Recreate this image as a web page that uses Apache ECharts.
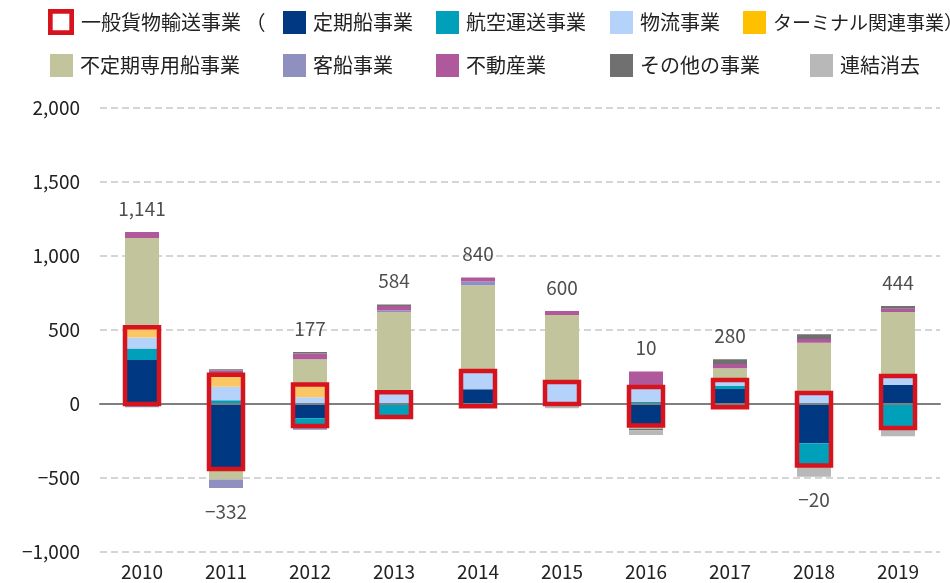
<!DOCTYPE html>
<html>
<head>
<meta charset="utf-8">
<script src="https://cdn.jsdelivr.net/npm/echarts@6/dist/echarts.min.js"></script>
<style>
  html, body { margin: 0; padding: 0; background: #fff; }
  #chart { width: 950px; height: 583px; }
</style>
</head>
<body>
<div id="chart"></div>
<script>
// 年度
const years = ['2010', '2011', '2012', '2013', '2014', '2015', '2016', '2017', '2018', '2019']

// 一般貨物輸送事業
const liner = [297, -440, -97, 0, 99, 0, -145, 101, -266, 128]      // 定期船事業
const air = [78, 25, -52, -88, -15, 8, 15, 20, -149, -162]           // 航空運送事業
const logistics = [74, 92, 45, 80, 124, 141, 100, 41, 74, 61]        // 物流事業
const terminal = [70, 80, 86, 0, 0, 0, 0, -22, 0, 0]                 // ターミナル関連事業

// その他セグメント
const tramp = [603, -70, 172, 541, 580, 452, -22, 79, 340, 433]      // 不定期専用船事業
const cruise = [-22, -57, -25, 10, 25, 0, 0, 0, 0, 0]                // 客船事業
const realEstate = [41, 30, 38, 32, 27, 27, 105, 29, 25, 22]         // 不動産業
const others = [0, 8, 10, 9, 0, 0, -10, 32, 32, 18]                  // その他の事業
const elimination = [0, 0, 0, 0, 0, -28, -33, 0, -76, -56]           // 連結消去

// 合計ラベル
const totals = [1141, -332, 177, 584, 840, 600, 10, 280, -20, 444]

const FONT = '"Noto Sans CJK JP", "Noto Sans", sans-serif'
const BAR_W = 34
const RED = '#d7141e'

const barDefs = [
  { name: '定期船事業', data: liner, color: '#003882' },
  { name: '航空運送事業', data: air, color: '#00a0ba' },
  { name: '物流事業', data: logistics, color: '#b4d2fa' },
  { name: 'ターミナル関連事業', data: terminal, color: '#fac764', legendColor: '#ffc000' },
  { name: '不定期専用船事業', data: tramp, color: '#c2c49c' },
  { name: '客船事業', data: cruise, color: '#9090c0' },
  { name: '不動産業', data: realEstate, color: '#b0589c' },
  { name: 'その他の事業', data: others, color: '#707070' },
  { name: '連結消去', data: elimination, color: '#b8b8b8' }
]
const generalArrs = [liner, air, logistics, terminal]

const sumBy = (arrs, i, f) => arrs.reduce((s, a) => s + f(a[i]), 0)
const genPos = years.map((y, i) => sumBy(generalArrs, i, v => Math.max(v, 0)))
const genNeg = years.map((y, i) => sumBy(generalArrs, i, v => Math.min(v, 0)))
const allArrs = barDefs.map(d => d.data)
const posTop = years.map((y, i) => sumBy(allArrs, i, v => Math.max(v, 0)))
const negBottom = years.map((y, i) => sumBy(allArrs, i, v => Math.min(v, 0)))

const fmt = n => (n < 0 ? '−' : '') + Math.abs(n).toLocaleString('en-US')

// 凡例の配置
const legendPos = [
  { name: '一般貨物輸送事業', left: 43, top: 4, text: '一般貨物輸送事業 （' },
  { name: '定期船事業', left: 278, top: 6 },
  { name: '航空運送事業', left: 431, top: 6 },
  { name: '物流事業', left: 605, top: 6 },
  { name: 'ターミナル関連事業', left: 738, top: 6, text: 'ターミナル関連事業）', size: 19 },
  { name: '不定期専用船事業', left: 45, top: 49 },
  { name: '客船事業', left: 278, top: 49 },
  { name: '不動産業', left: 431, top: 49 },
  { name: 'その他の事業', left: 605, top: 49 },
  { name: '連結消去', left: 805, top: 49 }
]

const legends = legendPos.map(p => {
  const def = barDefs.find(d => d.name === p.name)
  const item = { name: p.name }
  let w = 23, h = 23
  if (def) {
    item.icon = 'rect'
    item.itemStyle = { color: def.legendColor || def.color }
  } else {
    // 赤枠の凡例
    item.icon = 'path://M0,0H20V20H0Z M3.6,3.6V16.4H16.4V3.6Z'
    item.itemStyle = { color: RED }
    w = 26; h = 26
  }
  return {
    data: [item],
    left: p.left,
    top: p.top,
    itemWidth: w,
    itemHeight: h,
    selectedMode: false,
    formatter: () => p.text || p.name,
    textStyle: { fontFamily: FONT, fontSize: p.size || 20, color: '#222', padding: [0, 0, 0, 2] }
  }
})

const chart = echarts.init(document.getElementById('chart'))

const series = barDefs.map(d => ({
  name: d.name,
  type: 'bar',
  stack: 'total',
  barWidth: BAR_W,
  data: d.data,
  itemStyle: { color: d.color },
  z: 2
}))

series.push({
  name: '一般貨物輸送事業',
  type: 'custom',
  z: 5,
  silent: true,
  itemStyle: { color: RED },
  data: years.map((y, i) => [i, genNeg[i], genPos[i]]),
  encode: { x: 0, y: [1, 2] },
  renderItem (params, api) {
    const top = api.coord([api.value(0), api.value(2)])
    const bot = api.coord([api.value(0), api.value(1)])
    return {
      type: 'rect',
      shape: { x: top[0] - BAR_W / 2, y: top[1], width: BAR_W, height: bot[1] - top[1] },
      style: { fill: 'rgba(0,0,0,0)', stroke: RED, lineWidth: 4.5 }
    }
  }
})

series.push({
  type: 'scatter',
  symbolSize: 0,
  silent: true,
  z: 6,
  data: years.map((y, i) => ({
    value: [i, totals[i] >= 0 ? posTop[i] : negBottom[i]],
    label: { position: totals[i] >= 0 ? 'top' : 'bottom' }
  })),
  label: {
    show: true,
    distance: 14,
    fontFamily: FONT,
    fontSize: 19,
    color: '#222',
    formatter: p => fmt(totals[p.dataIndex])
  }
})

chart.setOption({
  animation: false,
  legend: legends,
  grid: { left: 100, right: 10, top: 108, bottom: 31, containLabel: false },
  xAxis: [
    {
      type: 'category',
      data: years,
      axisLine: { show: false, onZero: false },
      axisTick: { show: false },
      axisLabel: { fontFamily: FONT, fontSize: 19, color: '#222', margin: 10 }
    },
    {
      // 0 の線
      type: 'category',
      data: years,
      position: 'bottom',
      z: 3,
      axisLine: { show: true, onZero: true, lineStyle: { color: '#7f7f7f', width: 2 } },
      axisTick: { show: false },
      axisLabel: { show: false }
    }
  ],
  yAxis: {
    type: 'value',
    min: -1000,
    max: 2000,
    interval: 500,
    axisLine: { show: false },
    axisTick: { show: false },
    axisLabel: { fontFamily: FONT, fontSize: 19, color: '#222', margin: 20, formatter: v => fmt(v) },
    splitLine: { lineStyle: { color: '#c8c8c8', width: 1.5, type: [7, 4] } }
  },
  series: series
})
</script>
</body>
</html>
